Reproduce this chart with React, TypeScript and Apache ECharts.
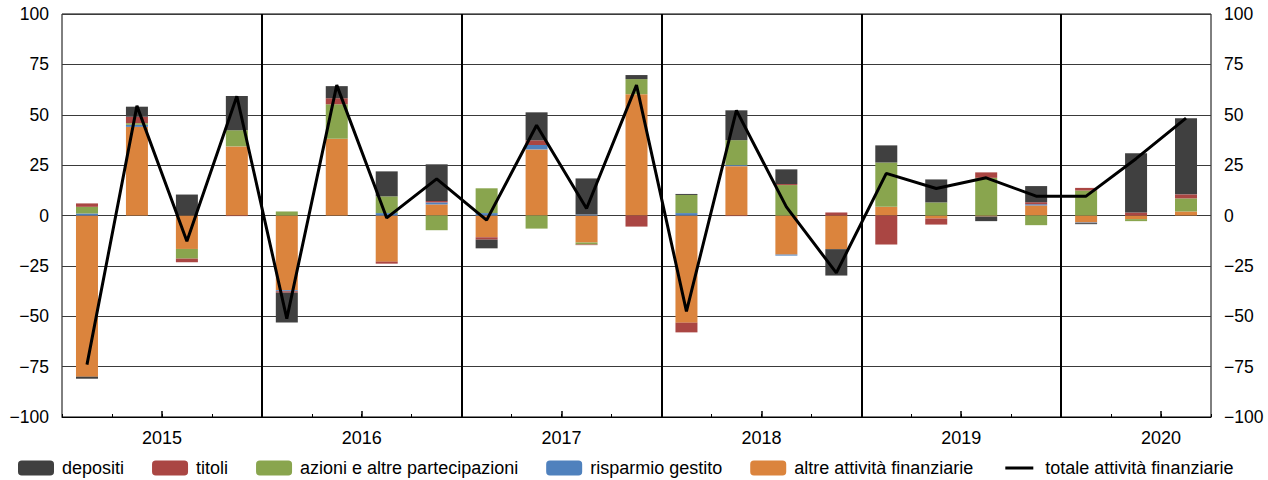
import React, { useEffect, useRef } from "react";
import * as echarts from "echarts";

const years = ["2015", "2016", "2017", "2018", "2019", "2020"];
const quarters = [
  "2015 T1", "2015 T2", "2015 T3", "2015 T4",
  "2016 T1", "2016 T2", "2016 T3", "2016 T4",
  "2017 T1", "2017 T2", "2017 T3", "2017 T4",
  "2018 T1", "2018 T2", "2018 T3", "2018 T4",
  "2019 T1", "2019 T2", "2019 T3", "2019 T4",
  "2020 T1", "2020 T2", "2020 T3",
];

const depositi = [-1, 5, 10.4, 17, -14.8, 6, 12.4, 18.2, -4.3, 13.9, 17.9, 2, 0.5, 14.8, 7.3, -13.1, 8.5, 11.4, -2.3, 8, -0.5, 29.4, 37.8];
const titoli = [1.7, 3.2, -1.8, -0.3, -0.7, 3, -1, 0.7, -1.2, 2.3, -0.3, -5.5, -4.8, -0.3, 0.5, 1.5, -14.4, -3, 2.7, 1, 1.3, 1.5, 2];
const azioni = [3.3, 0.8, -4.8, 8, 2, 17.1, 8.3, -7.3, 12.3, -6.5, -1, 7.5, 9, 12.4, 15.1, 0, 22, 6.5, 18.7, -4.8, 12.4, -1, 6.5];
const risparmio = [1, 1, 0, 0, -0.5, 0, 1.2, 1, 1.2, 2.2, 0.5, 0, 1.2, 0.5, -0.5, 0, 0, 0, 0, 0.6, -0.3, 0, 0];
const altre = [-80, 44, -16.6, 34.3, -37.1, 38.1, -22.9, 5.5, -10.8, 32.8, -13.4, 60.2, -53.2, 24.5, -19.4, -16.7, 4.3, -1.5, -0.5, 5, -3.5, -1.8, 2];
const totale = [-74, 54.4, -12.8, 59.2, -51.2, 64.7, -1.2, 18.2, -2.3, 44.8, 3.5, 64.7, -47.6, 52.2, 4.3, -28.5, 20.9, 13.4, 18.7, 9.6, 9.6, 28.2, 48.3];

const yearBoundaries = [4, 8, 12, 16, 20];
const midYears = [2, 6, 10, 14, 18, 22];

const FONT = "'Liberation Sans', Arial, sans-serif";

const LINE_ICON =
  "path://M0,0 L0.01,0 L0.01,0.01 Z M4,6 L32,6 L32,9 L4,9 Z M35.99,14.99 L36,15 L35.99,15 Z";

export default function App() {
  const ref = useRef<HTMLDivElement>(null);
  useEffect(() => {
    if (!ref.current) return;
    const chart = echarts.init(ref.current, null, { renderer: "svg" });
    const fmtY = (v: number) => String(v).replace("-", "\u2212");
    const barSeries = (name: string, data: number[], color: string) => ({
      name,
      type: "bar",
      stack: "tot",
      xAxisIndex: 0,
      barWidth: 22,
      data,
      itemStyle: { color },
      emphasis: { disabled: true },
    });
    const option: any = {
      animation: false,
      textStyle: { fontFamily: FONT },
      grid: {
        left: 62,
        right: 57,
        top: 14,
        bottom: 63,
        show: true,
        borderColor: "#000",
        borderWidth: 1,
        backgroundColor: "transparent",
      },
      legend: {
        left: 18,
        top: 459,
        padding: 0,
        itemWidth: 36,
        itemHeight: 15,
        itemGap: 28,
        textStyle: { fontSize: 18, color: "#000", fontFamily: FONT, padding: [0, 0, 0, 3] },
        data: [
          { name: "depositi" },
          { name: "titoli" },
          { name: "azioni e altre partecipazioni" },
          { name: "risparmio gestito" },
          { name: "altre attività finanziarie" },
          { name: "totale attività finanziarie", icon: LINE_ICON, itemStyle: { color: "#000" } },
        ],
      },
      xAxis: [
        {
          type: "category",
          data: quarters,
          boundaryGap: true,
          axisLine: { show: true, onZero: false, lineStyle: { color: "#000", width: 1 } },
          axisTick: { show: true, inside: true, length: 3, interval: 0, lineStyle: { color: "#000" } },
          splitLine: { show: false },
          axisLabel: { show: false },
        },
        {
          type: "value",
          min: 0,
          max: quarters.length,
          interval: 1,
          position: "bottom",
          axisLine: { show: false },
          axisTick: { show: false },
          splitLine: { show: false },
          axisLabel: {
            show: true,
            margin: 12,
            fontSize: 18,
            color: "#000",
            fontFamily: FONT,
            formatter: (v: number) => (v % 4 === 2 ? years[(v - 2) / 4] : ""),
          },
        },
      ],
      yAxis: [
        {
          type: "value",
          min: -100,
          max: 100,
          interval: 25,
          position: "left",
          axisLine: { show: false },
          axisTick: { show: false },
          splitLine: { show: true, lineStyle: { color: "#3a3a3a", width: 1 } },
          axisLabel: { margin: 13, fontSize: 17.5, color: "#000", fontFamily: FONT, formatter: fmtY },
        },
        {
          type: "value",
          min: -100,
          max: 100,
          interval: 25,
          position: "right",
          axisLine: { show: false },
          axisTick: { show: false },
          splitLine: { show: false },
          axisLabel: { margin: 13, fontSize: 17.5, color: "#000", fontFamily: FONT, formatter: fmtY },
        },
      ],
      series: [
        barSeries("altre attività finanziarie", altre, "#DB843D"),
        barSeries("risparmio gestito", risparmio, "#4F81BD"),
        barSeries("azioni e altre partecipazioni", azioni, "#89A54E"),
        barSeries("titoli", titoli, "#AA4643"),
        barSeries("depositi", depositi, "#404040"),
        {
          name: "totale attività finanziarie",
          type: "line",
          xAxisIndex: 1,
          data: totale.map((v, i) => [i + 0.5, v]),
          symbol: "none",
          lineStyle: { color: "#000", width: 3 },
          itemStyle: { color: "#000" },
          z: 5,
          emphasis: { disabled: true },
          markLine: {
            silent: true,
            symbol: ["none", "none"],
            label: { show: false },
            animation: false,
            data: [
              ...yearBoundaries.map((x) => ({
                xAxis: x,
                lineStyle: { color: "#000", width: 2, type: "solid" },
              })),
              ...midYears.map((x) => [
                { coord: [x, -100], lineStyle: { color: "#000", width: 1.5, type: "solid" } },
                { coord: [x, -97] },
              ]),
            ],
          },
        },
      ],
    };
    chart.setOption(option);
    return () => chart.dispose();
  }, []);
  return (
    <div
      ref={ref}
      style={{ position: "fixed", left: 0, top: 0, width: 1268, height: 480, background: "#fff" }}
    />
  );
}
